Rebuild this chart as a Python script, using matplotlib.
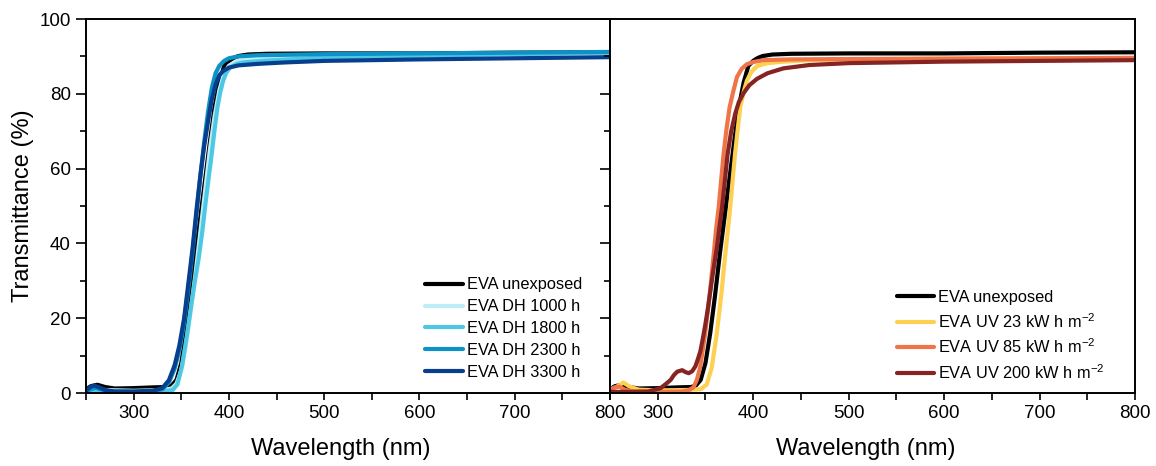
import matplotlib
matplotlib.use("Agg")
import matplotlib.pyplot as plt
from matplotlib.ticker import MultipleLocator

plt.rcParams["font.family"] = ["Liberation Sans", "DejaVu Sans"]
plt.rcParams["mathtext.default"] = "regular"

# ---- left panel: damp heat ----
wl_ref = [250, 255, 262, 270, 280, 300, 320, 335, 340, 345, 350, 355, 360, 365, 370,
          375, 380, 385, 390, 395, 400, 405, 410, 420, 440, 500, 600, 700, 800]
t_ref = [1.0, 1.8, 2.2, 1.6, 1.2, 1.3, 1.5, 1.6, 2.0, 3.5, 8, 16, 26, 37, 47,
         57, 67, 76.5, 83, 87.5, 88.8, 89.6, 90.1, 90.5, 90.7, 90.8, 90.8, 91.0, 91.1]

wl_dh1000 = [250, 260, 270, 300, 330, 340, 345, 350, 355, 360, 365, 370, 375, 380, 385,
             390, 395, 400, 410, 430, 500, 600, 700, 800]
t_dh1000 = [0.3, 1.2, 0.8, 0.6, 0.8, 1.2, 2.5, 6, 13, 22, 32, 43, 54, 65, 74,
            81, 85.5, 87.5, 88.8, 89.5, 90.0, 90.4, 90.7, 91.0]

wl_dh1800 = [250, 260, 270, 300, 330, 341, 346, 351, 356, 361, 365, 368, 372, 375, 378,
             382, 385, 388, 391, 394, 397, 401, 408, 415, 440, 470, 500, 600, 700, 800]
t_dh1800 = [0.2, 0.6, 0.4, 0.3, 0.4, 0.8, 2.3, 7.4, 15.5, 24.4, 31, 35.5, 43, 49.7, 56,
            64, 70.5, 76.4, 80.5, 83.5, 85.5, 87, 88, 88.4, 88.9, 89.3, 89.7, 90.2, 90.6, 91.0]

wl_dh2300 = [250, 255, 260, 265, 275, 300, 320, 330, 337, 343, 348, 353, 358, 362, 366,
             370, 374, 378, 382, 386, 390, 395, 400, 410, 430, 500, 600, 700, 800]
t_dh2300 = [0.3, 1.0, 1.4, 1.0, 0.4, 0.3, 0.5, 1.0, 2.8, 6.5, 11.5, 19, 29, 38, 48,
            58, 67, 75, 81.5, 85.5, 87.5, 88.8, 89.5, 90.0, 90.3, 90.6, 90.8, 91.0, 91.2]

wl_dh3300 = [250, 254, 258, 263, 270, 280, 300, 320, 330, 337, 343, 348, 353, 358, 362,
             366, 370, 374, 378, 382, 386, 390, 394, 400, 410, 430, 460, 500, 600, 700, 800]
t_dh3300 = [0.6, 1.5, 2.0, 1.6, 0.8, 0.4, 0.4, 0.6, 1.3, 3.4, 7.4, 12.7, 20, 30.5, 39,
            49, 58, 66, 72.5, 78.5, 82.5, 85, 86.1, 87, 87.6, 88.0, 88.4, 88.8, 89.2, 89.5, 89.8]

# ---- right panel: UV ----
wl_uv23 = [250, 256, 264, 270, 280, 300, 330, 345, 351.4, 356.5, 361.7, 366.9, 370.8, 373.5,
           376, 378.5, 381, 384, 386.5, 390, 393.4, 398, 404, 415, 432, 460, 500, 600, 700, 800]
t_uv23 = [0.5, 1.5, 2.8, 1.8, 0.9, 0.7, 0.8, 1.0, 2.3, 6.7, 15.5, 27, 37.2, 43.5,
          49.7, 57, 63.9, 71, 76.4, 80.5, 83.5, 85.8, 87.4, 88.2, 88.6, 89.0, 89.2, 89.4, 89.5, 89.6]

wl_uv85 = [250, 255, 260, 266, 275, 300, 325, 333, 337.4, 341, 344.3, 349.5, 354.7, 358.7, 361,
           363.9, 366.5, 369, 372, 375.3, 379, 383, 388, 393.4, 400, 411, 440, 500, 600, 700, 800]
t_uv85 = [1.0, 1.5, 1.7, 0.8, 0.4, 0.3, 0.4, 0.8, 1.5, 3.5, 6.7, 15.5, 27, 37.2, 43.5,
          49.7, 57, 63.9, 70.5, 76.4, 80.5, 84.5, 86.7, 87.9, 88.5, 89.0, 89.2, 89.3, 89.4, 89.5, 89.6]

wl_uv200 = [250, 270, 290, 303, 308, 313.5, 317, 320.4, 325.6, 329, 332.5, 336, 339.4, 342, 344.6,
            347, 349.8, 352.5, 355, 357.5, 360.2, 362, 364.5, 367.4, 370, 373.2, 377, 381.2, 385,
            390, 396, 404, 415, 431.6, 459, 500, 600, 700, 800]
t_uv200 = [0.3, 0.3, 0.4, 1.3, 2.3, 3.5, 4.8, 5.7, 6.1, 5.6, 5.3, 5.8, 7.1, 9, 11.1,
           14.2, 18.2, 22.5, 27, 31.5, 36, 39, 44, 49.7, 56, 63.9, 70, 74.7, 77.8,
           80.2, 82.3, 84, 85.5, 86.8, 87.7, 88.2, 88.6, 88.8, 89.0]

left_series = [
    (wl_ref, t_ref, "EVA unexposed", "#000000"),
    (wl_dh1000, t_dh1000, "EVA DH 1000 h", "#bdeef7"),
    (wl_dh1800, t_dh1800, "EVA DH 1800 h", "#4dc8e4"),
    (wl_dh2300, t_dh2300, "EVA DH 2300 h", "#0c92c6"),
    (wl_dh3300, t_dh3300, "EVA DH 3300 h", "#073f8e"),
]
right_series = [
    (wl_ref, t_ref, "EVA unexposed", "#000000"),
    (wl_uv23, t_uv23, r"EVA UV 23 kW h m$^{-2}$", "#fdd051"),
    (wl_uv85, t_uv85, r"EVA UV 85 kW h m$^{-2}$", "#ef7549"),
    (wl_uv200, t_uv200, r"EVA UV 200 kW h m$^{-2}$", "#862323"),
]

W, H = 1156, 466
fig = plt.figure(figsize=(W / 100, H / 100), dpi=100)
y0, y1 = 393, 19
axL = fig.add_axes([86 / W, (H - y0) / H, (610 - 86) / W, (y0 - y1) / H])
axR = fig.add_axes([610 / W, (H - y0) / H, (1135 - 610) / W, (y0 - y1) / H])

for ax, series in ((axL, left_series), (axR, right_series)):
    for wl, t, lab, c in series:
        ax.plot(wl, t, color=c, lw=3.0, label=lab, solid_capstyle="round")
    ax.set_xlim(250, 800)
    ax.set_ylim(0, 100)
    ax.xaxis.set_major_locator(MultipleLocator(100))
    ax.xaxis.set_minor_locator(MultipleLocator(50))
    ax.yaxis.set_major_locator(MultipleLocator(20))
    ax.yaxis.set_minor_locator(MultipleLocator(10))
    ax.tick_params(which="both", direction="out", width=1.2, labelsize=13.5,
                   top=False, right=False, pad=4)
    ax.tick_params(axis="y", which="major", length=7)
    ax.tick_params(axis="y", which="minor", length=4)
    ax.tick_params(axis="x", which="both", length=5)
    for s in ax.spines.values():
        s.set_linewidth(1.4)
    ax.set_xlabel("Wavelength (nm)", fontsize=17)
    ax.xaxis.set_label_coords(0.487, -0.12)
    ax.legend(loc="lower right", frameon=False, fontsize=11.8,
              handlelength=2.3, handletextpad=0.25, labelspacing=0.42,
              borderaxespad=0.4)

axL.set_xticks([300, 400, 500, 600, 700, 800])
axL.set_ylabel("Transmittance (%)", fontsize=17, labelpad=4)
axR.set_xticks([300, 400, 500, 600, 700, 800])
axR.tick_params(axis="y", labelleft=False)
axL.legend_.set_bbox_to_anchor((0.972, 0.0), transform=axL.transAxes)
axR.legend_.set_bbox_to_anchor((0.968, -0.005), transform=axR.transAxes)

fig.savefig("out.png", dpi=100)
